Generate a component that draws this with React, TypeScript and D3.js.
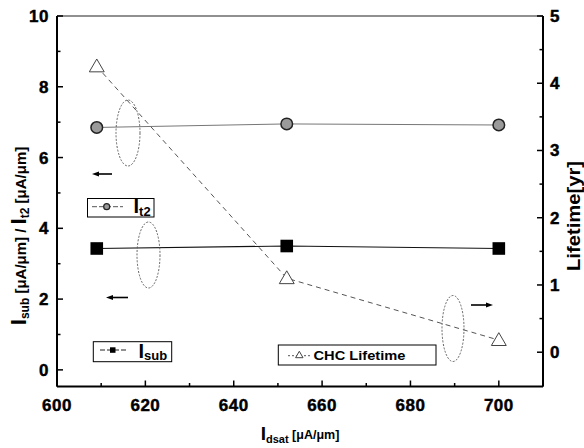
import React from "react";
import * as d3 from "d3";

// Drain saturation current (x) for each measured device
const idsat = [609, 652, 700];
// Left axis series
const it2 = [6.85, 6.95, 6.92];
const isub = [3.43, 3.5, 3.43];
// Right axis series
const lifetime = [4.25, 1.1, 0.18];

const xTicks = [600, 620, 640, 660, 680, 700];
const yLeftTicks = [0, 2, 4, 6, 8, 10];
const yRightTicks = [0, 1, 2, 3, 4, 5];

const W = 584;
const H = 448;
const L = 57;
const R = 543;
const T = 16;
const B = 386.5;

const FONT = "'Liberation Sans', Arial, Helvetica, sans-serif";

export default function App() {
  const x = d3.scaleLinear().domain([600, 710]).range([L, R]);
  const yL = d3.scaleLinear().domain([-0.47, 10]).range([B, T]);
  const yR = d3.scaleLinear().domain([-0.51, 5]).range([B, T]);

  const lineL = d3
    .line<number>()
    .x((_, i) => x(idsat[i]))
    .y((d) => yL(d));
  const lineR = d3
    .line<number>()
    .x((_, i) => x(idsat[i]))
    .y((d) => yR(d));

  const xMinor = d3.range(600, 711, 10);
  const yLMinor = d3.range(1, 10, 2);
  const yRMinor = d3.range(0.5, 5, 1);

  const tri = (cx: number, cy: number, s: number) =>
    `M${cx},${cy - s * 0.62} L${cx + s * 0.62},${cy + s * 0.45} L${cx - s * 0.62},${cy + s * 0.45} Z`;

  const arrow = (x1: number, x2: number, y: number) => {
    const dir = Math.sign(x2 - x1);
    return (
      <g>
        <line x1={x1} y1={y} x2={x2 - dir * 4} y2={y} stroke="#000" strokeWidth={1.6} />
        <path d={`M${x2},${y} L${x2 - dir * 7},${y - 2.6} L${x2 - dir * 7},${y + 2.6} Z`} fill="#000" />
      </g>
    );
  };

  const heavy = { stroke: "#000", strokeWidth: 0.45 };

  return (
    <svg
      width={W}
      height={H}
      style={{ position: "absolute", left: 0, top: 0, background: "#fff" }}
      fontFamily={FONT}
    >
      <rect x={0} y={0} width={W} height={H} fill="#fff" />

      {/* frame */}
      <line x1={L} y1={T} x2={R} y2={T} stroke="#222" strokeWidth={1.2} />
      <line x1={L} y1={T} x2={L} y2={B} stroke="#000" strokeWidth={2} />
      <line x1={R} y1={T} x2={R} y2={B} stroke="#000" strokeWidth={2} />
      <line x1={L} y1={B} x2={R} y2={B} stroke="#000" strokeWidth={2} />

      {/* bottom axis ticks */}
      {xMinor.map((v) => {
        const major = v % 20 === 0;
        return (
          <line key={"xm" + v} x1={x(v)} x2={x(v)} y1={B} y2={B - (major ? 6 : 3.5)} stroke="#000" strokeWidth={1.5} />
        );
      })}
      {xTicks.map((v) => (
        <text key={"xt" + v} x={x(v)} y={410.5} textAnchor="middle" fontSize={17} fontWeight="bold" letterSpacing={0.5} {...heavy}>
          {v}
        </text>
      ))}

      {/* left axis ticks */}
      {yLeftTicks.map((v) => (
        <g key={"yl" + v}>
          <line x1={L} x2={L + 6} y1={yL(v)} y2={yL(v)} stroke="#000" strokeWidth={1.5} />
          <text x={49} y={yL(v) + 6} textAnchor="end" fontSize={17} fontWeight="bold" letterSpacing={0.5} {...heavy}>
            {v}
          </text>
        </g>
      ))}
      {yLMinor.map((v) => (
        <line key={"ylm" + v} x1={L} x2={L + 3.5} y1={yL(v)} y2={yL(v)} stroke="#000" strokeWidth={1.5} />
      ))}

      {/* right axis ticks */}
      {yRightTicks.map((v) => (
        <g key={"yr" + v}>
          <line x1={R} x2={R - 6} y1={yR(v)} y2={yR(v)} stroke="#000" strokeWidth={1.5} />
          <text x={550} y={yR(v) + 6} textAnchor="start" fontSize={17} fontWeight="bold" {...heavy}>
            {v}
          </text>
        </g>
      ))}
      {yRMinor.map((v) => (
        <line key={"yrm" + v} x1={R} x2={R - 3.5} y1={yR(v)} y2={yR(v)} stroke="#000" strokeWidth={1.5} />
      ))}

      {/* axis titles */}
      <text x={300} y={440} textAnchor="middle" fontWeight="bold">
        <tspan fontSize={19}>I</tspan>
        <tspan fontSize={11} dy={3}>dsat</tspan>
        <tspan fontSize={12.5} dy={-4}> [μA/μm]</tspan>
      </text>
      <text transform="translate(26,236) rotate(-90)" textAnchor="middle" fontWeight="bold">
        <tspan fontSize={22}>I</tspan>
        <tspan fontSize={12} dy={3}>sub</tspan>
        <tspan fontSize={15} dy={-3}> [μA/μm] / </tspan>
        <tspan fontSize={22}>I</tspan>
        <tspan fontSize={12} dy={3}>t2</tspan>
        <tspan fontSize={15} dy={-3}> [μA/μm]</tspan>
      </text>
      <text
        transform="translate(580,216) rotate(-90)"
        textAnchor="middle"
        fontSize={18}
        fontWeight="bold"
        textLength={110}
        lengthAdjust="spacingAndGlyphs"
      >
        Lifetime[yr]
      </text>

      {/* series lines */}
      <path d={lineL(it2) ?? ""} fill="none" stroke="#777" strokeWidth={1} />
      <path d={lineL(isub) ?? ""} fill="none" stroke="#111" strokeWidth={1.1} />
      <path d={lineR(lifetime) ?? ""} fill="none" stroke="#555" strokeWidth={1} strokeDasharray="5,4" />

      {/* markers */}
      {it2.map((v, i) => (
        <circle key={"c" + i} cx={x(idsat[i])} cy={yL(v)} r={5.8} fill="#9a9a9a" stroke="#222" strokeWidth={1.5} />
      ))}
      {isub.map((v, i) => (
        <rect key={"s" + i} x={x(idsat[i]) - 6.3} y={yL(v) - 6.3} width={12.6} height={12.6} fill="#000" />
      ))}
      {lifetime.map((v, i) => (
        <path key={"t" + i} d={tri(x(idsat[i]), yR(v), 12)} fill="#fff" stroke="#444" strokeWidth={1} />
      ))}

      {/* grouping ellipses */}
      <ellipse cx={128} cy={133} rx={12} ry={33} fill="none" stroke="#555" strokeWidth={0.9} strokeDasharray="2,1.5" />
      <ellipse cx={148.5} cy={255} rx={11.5} ry={33} fill="none" stroke="#555" strokeWidth={0.9} strokeDasharray="2,1.5" />
      <ellipse cx={453} cy={328.5} rx={11} ry={33} fill="none" stroke="#555" strokeWidth={0.9} strokeDasharray="2,1.5" />

      {/* axis pointers */}
      {arrow(112, 92, 174)}
      {arrow(128, 106, 297.5)}
      {arrow(471, 493, 305)}

      {/* legend: It2 */}
      <rect x={87.5} y={198.5} width={66.5} height={18.5} fill="#fff" stroke="#000" strokeWidth={1} />
      <line x1={92} x2={123} y1={206.7} y2={206.7} stroke="#555" strokeWidth={1} strokeDasharray="5,2" />
      <circle cx={106.7} cy={206.7} r={3} fill="#999" stroke="#222" strokeWidth={1.2} />
      <text x={133.5} y={213} fontWeight="bold">
        <tspan fontSize={20}>I</tspan>
        <tspan fontSize={13} dy={3}>t2</tspan>
      </text>

      {/* legend: Isub */}
      <rect x={93.3} y={341.7} width={78.4} height={20} fill="#fff" stroke="#000" strokeWidth={1} />
      <line x1={100} x2={128} y1={350} y2={350} stroke="#222" strokeWidth={1} strokeDasharray="5,2" />
      <rect x={110} y={347.3} width={5.5} height={5.5} fill="#000" />
      <text x={138.5} y={357.5} fontWeight="bold">
        <tspan fontSize={20}>I</tspan>
        <tspan fontSize={13} dy={2.5}>sub</tspan>
      </text>

      {/* legend: CHC Lifetime */}
      <rect x={278.3} y={345} width={157.7} height={20} fill="#fff" stroke="#000" strokeWidth={1} />
      <line x1={288} x2={311} y1={355.7} y2={355.7} stroke="#555" strokeWidth={1} strokeDasharray="2,2" />
      <path d={tri(299.3, 355, 6)} fill="#fff" stroke="#444" strokeWidth={1} />
      <text x={313.5} y={360} fontSize={13} fontWeight="bold" textLength={92} lengthAdjust="spacingAndGlyphs">
        CHC Lifetime
      </text>
    </svg>
  );
}
